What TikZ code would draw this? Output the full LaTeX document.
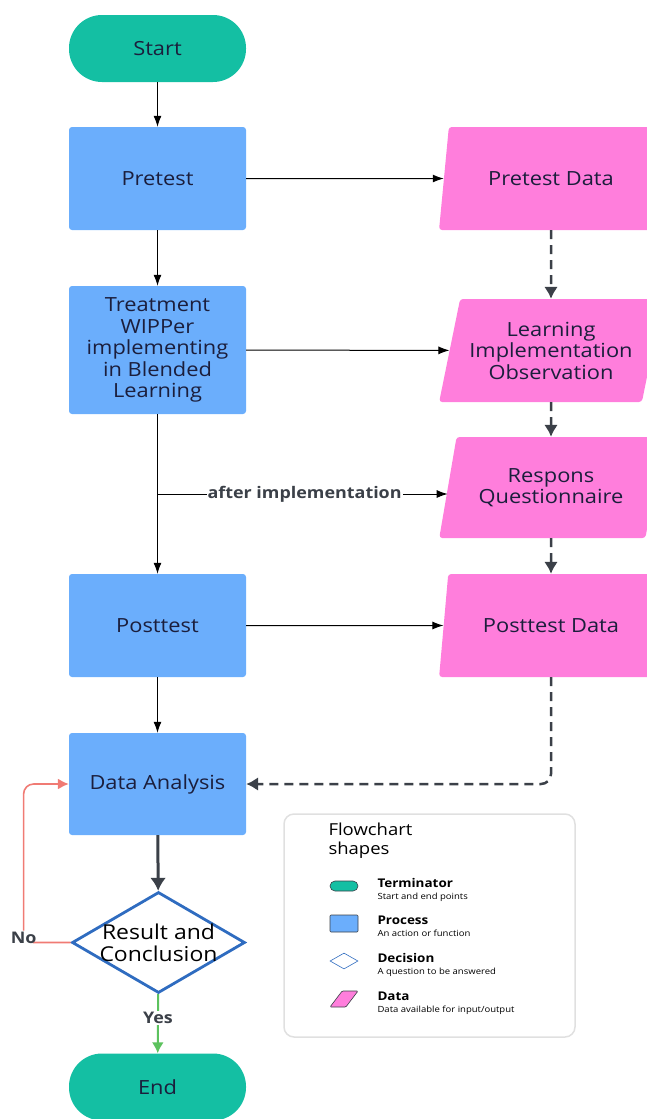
\documentclass[tikz,border=0pt]{standalone}
\usepackage{fontspec}
\setmainfont{Open Sans}[FakeStretch=1.12]
\usetikzlibrary{shapes.geometric, arrows.meta, positioning, calc}
\definecolor{termgreen}{HTML}{14BFA3}
\definecolor{procblue}{HTML}{6BAEFC}
\definecolor{datapink}{HTML}{FF7EDC}
\definecolor{decblue}{HTML}{2F6CC0}
\definecolor{darkline}{HTML}{3B4048}
\definecolor{txtnavy}{HTML}{1B1E3C}
\definecolor{yesgreen}{HTML}{5CC25E}
\definecolor{nored}{HTML}{F07B74}
\newcommand{\boxfont}{\fontsize{19.5}{21.5}\selectfont}

\begin{document}
\begin{tikzpicture}[x=1pt, y=-1pt,
    term/.style={fill=termgreen, rounded corners=33pt, minimum width=177pt, minimum height=67pt, text=txtnavy, font=\boxfont},
    proc/.style={fill=procblue, rounded corners=3pt, minimum width=177pt, minimum height=103pt, align=center, text=txtnavy, font=\boxfont},
    dat/.style={trapezium, trapezium left angle=73, trapezium right angle=107, trapezium stretches=true, fill=datapink, rounded corners=3pt, minimum width=224pt, minimum height=103pt, align=center, text=txtnavy, font=\boxfont},
    dec/.style={diamond, draw=decblue, line width=2.8pt, fill=white, minimum width=173pt, minimum height=101pt, aspect=1.7, inner sep=0pt},
    dectext/.style={align=center, text=black, font=\fontsize{20.5}{22}\selectfont},
    arr/.style={-{Latex[length=11pt, width=8pt]}, line width=1pt},
    dasharr/.style={-{Latex[length=12pt, width=14pt]}, line width=2.5pt, darkline, dash pattern=on 9pt off 6pt},
    lbl/.style={fill=white, inner sep=1pt, text=darkline, font=\bfseries\fontsize{16}{18}\selectfont},
    icon/.style={inner sep=0pt, minimum width=28pt, minimum height=16pt, draw=darkline, line width=0.6pt},
    legtitle/.style={anchor=base west, font=\bfseries\fontsize{12}{14}\selectfont},
    legsub/.style={anchor=base west, font=\fontsize{8.5}{10}\selectfont}
]
\useasboundingbox (0,0) rectangle (646,1119);

% main column
\node[term] (start) at (157.5,48.5) {Start};
\node[proc] (pretest) at (157.5,178.5) {Pretest};
\node[proc, minimum height=128pt] (treatment) at (157.5,350) {Treatment\\WIPPer\\implementing\\in Blended\\Learning};
\node[proc] (posttest) at (157.5,625.5) {Posttest};
\node[proc, minimum height=102pt] (analysis) at (157.5,784) {Data Analysis};
\node[dec, label={[dectext]center:Result and\\Conclusion}] (result) at (158.5,942.5) {};
\node[term] (end) at (157.5,1087) {End};

% data column
\node[dat] (pretestdata) at (551,178.5) {Pretest Data};
\node[dat] (observation) at (551,350.5) {Learning\\Implementation\\Observation};
\node[dat, minimum height=101pt] (questionnaire) at (551,487.5) {Respons\\Questionnaire};
\node[dat] (posttestdata) at (551,625.5) {Posttest Data};

\coordinate (branch) at (157.5,494);

\draw[arr] (start) -- (pretest);
\draw[arr] (pretest) -- (treatment);
\draw[arr] (treatment) -- (posttest);
\draw[arr] (posttest) -- (analysis);
\draw[arr] (pretest) -- (pretestdata);
\draw[arr] (treatment) -- (observation);
\draw[arr] (branch) -- node[lbl, xshift=2pt]{after implementation} (branch -| questionnaire.west);
\draw[arr] (posttest) -- (posttestdata);

\draw[dasharr] (pretestdata) -- (observation);
\draw[dasharr] (observation) -- (questionnaire);
\draw[dasharr] (questionnaire) -- (posttestdata);
\draw[dasharr, rounded corners=10pt] (posttestdata) |- (analysis);

\draw[-{Latex[length=13pt, width=16pt]}, line width=3pt, darkline] (analysis) -- (result);
\draw[-{Latex[length=11pt, width=12pt]}, line width=2pt, yesgreen] (result) -- node[lbl, pos=0.4]{Yes} (end);
\draw[-{Latex[length=11pt, width=11pt]}, line width=1.6pt, nored, rounded corners=10pt] (result.west) -- ++(-47,0) node[lbl, yshift=5pt]{No} |- (analysis.west);

% legend
\node[draw=black!12, line width=1.5pt, rounded corners=10pt, minimum width=291pt, minimum height=223pt] (legend) at (429.5,925.5) {};
\node[anchor=base west, align=left, font=\fontsize{16.5}{18.5}\selectfont] (legendhead) at (325,854) {Flowchart\\shapes};
\node[icon, fill=termgreen, minimum height=10pt, rounded corners=5pt] (iconterm) at (344,886) {};
\node[icon, fill=procblue, minimum height=17pt, rounded corners=1pt] (iconproc) at (344,923.5) {};
\node[icon, diamond, draw=decblue, fill=white, minimum height=16pt, aspect=1.75] (icondec) at (344,961) {};
\node[icon, trapezium, trapezium left angle=65, trapezium right angle=115, trapezium stretches=true, inner sep=1pt, fill=datapink, rounded corners=1pt] (icondata) at (344,999) {\strut};
\node[legtitle] (termtitle) at (374,887) {Terminator};
\node[legsub] (termsub) at (374,899) {Start and end points};
\node[legtitle] (proctitle) at (374,924) {Process};
\node[legsub] (procsub) at (374,936) {An action or function};
\node[legtitle] (dectitle) at (374,962) {Decision};
\node[legsub] (decsub) at (374,974) {A question to be answered};
\node[legtitle] (datatitle) at (374,1000) {Data};
\node[legsub] (datasub) at (374,1012) {Data available for input/output};
\end{tikzpicture}
\end{document}
